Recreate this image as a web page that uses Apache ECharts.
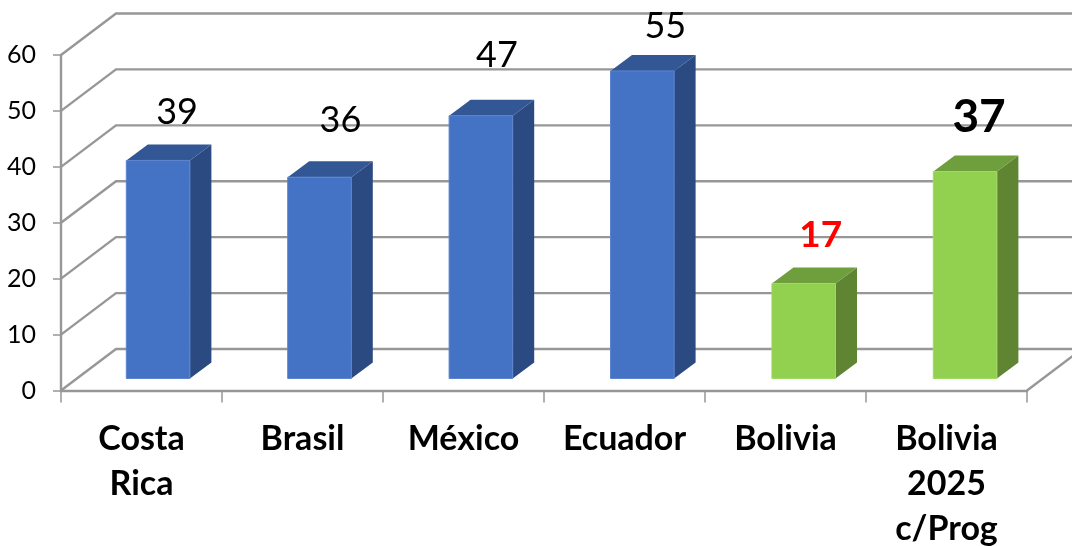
<!DOCTYPE html>
<html><head><meta charset="utf-8">
<style>html,body{margin:0;padding:0;background:#fff}#c{width:1072px;height:546px}</style>
<script src="https://cdn.jsdelivr.net/npm/echarts@6/dist/echarts.min.js"></script>
</head><body><div id="c"></div>
<script>
const categories = ['Costa\nRica','Brasil','México','Ecuador','Bolivia','Bolivia\n2025\nc/Prog'];
const values = [39,36,47,55,17,37];
const yTicks = [0,10,20,30,40,50,60];
const valueLabels = ['39','36','47','55','17','37'];

// layout / style
const font = 'Lato';
const wallDX = 55, wallDY = -41.5;       // depth of the 3D wall
const barShiftX = 16.6, barShiftY = -12; // bar front face position inside the depth
const barSpread = 0.4;                   // slight extra spacing per bar
const barDX = 21.5, barDY = -16;         // bar depth
const barWidthRatio = 0.395;
const grey = '#979797';
const blue = {front:'#4472C4', top:'#335795', side:'#2B4A81', edge:'#5C84CE'};
const green = {front:'#92D050', top:'#6F9E3D', side:'#5F8533', edge:'#A0DA62'};
const palettes = [blue,blue,blue,blue,green,green];
const labelStyles = [
  {nx:19,ny:-48,size:36,weight:'normal',color:'#000'},
  {nx:21,ny:-57,size:36,weight:'normal',color:'#000'},
  {nx:16,ny:-60,size:36,weight:'normal',color:'#000'},
  {nx:23,ny:-45,size:36,weight:'normal',color:'#000'},
  {nx:17,ny:-48.5,size:37,weight:'bold',color:'#FF0000'},
  {nx:14,ny:-54.5,size:46,weight:'bold',color:'#000'}
];

function renderWall(params, api){
  const cs = params.coordSys;
  const v = api.value(1);
  const y = api.coord([0, v])[1];
  const x0 = cs.x, x1 = cs.x + cs.width;
  const children = [{
    type:'polyline',
    shape:{points:[[x0,y],[x0+wallDX,y+wallDY],[x1+wallDX,y+wallDY]]},
    style:{fill:'none',stroke:grey,lineWidth:2.4}
  }];
  if (v === 0) children.push({
    type:'line',
    shape:{x1:x1,y1:y,x2:x1+wallDX,y2:y+wallDY},
    style:{stroke:grey,lineWidth:2.4}
  });
  return {type:'group',children};
}
function renderBar(params, api){
  const i = api.value(0);
  const w = api.size([1,0])[0]*barWidthRatio;
  const base = api.coord([i,0]);
  const top = api.coord([i,api.value(1)]);
  const p = palettes[i];
  const l = base[0]-w/2+barShiftX+i*barSpread, r = l+w;
  const b = base[1]+barShiftY, t = top[1]+barShiftY;
  const s = labelStyles[i];
  return {type:'group',children:[
    {type:'polygon',shape:{points:[[r,b],[r+barDX,b+barDY],[r+barDX,t+barDY],[r,t]]},style:{fill:p.side}},
    {type:'polygon',shape:{points:[[l,t],[r,t],[r+barDX,t+barDY],[l+barDX,t+barDY]]},style:{fill:p.top}},
    {type:'rect',shape:{x:l,y:t,width:w,height:b-t},style:{fill:p.front,stroke:p.edge,lineWidth:1}},
    {type:'text',x:(l+r)/2+s.nx,y:t+s.ny,style:{
      text:valueLabels[i],align:'center',verticalAlign:'middle',
      font:s.weight+' '+s.size+'px '+font,fill:s.color}}
  ]};
}
const chart = echarts.init(document.getElementById('c'),null,{renderer:'canvas'});
chart.setOption({
  animation:false,
  backgroundColor:'#fff',
  grid:{left:61,right:45,top:55,bottom:155.5,outerBoundsMode:'none',containLabel:false},
  xAxis:{type:'category',data:categories,
    axisLine:{show:true,lineStyle:{color:grey,width:2.4}},
    axisTick:{show:true,alignWithLabel:false,length:12,lineStyle:{color:grey,width:1.5}},
    axisLabel:{interval:0,margin:26,lineHeight:45,fontFamily:font,fontWeight:'bold',fontSize:34,color:'#000'},
    splitLine:{show:false}
  },
  yAxis:{type:'value',min:0,max:60,interval:10,
    axisLine:{show:true,lineStyle:{color:grey,width:2.4}},
    axisTick:{show:true,length:8,lineStyle:{color:grey,width:1.5}},
    axisLabel:{margin:25,padding:[3,0,0,0],fontFamily:font,fontSize:25,color:'#000',
      formatter:v=>yTicks.includes(v)?String(v):''},
    splitLine:{show:false}
  },
  series:[
    {type:'custom',name:'walls',clip:false,silent:true,z:1,
     data:yTicks.map(v=>[0,v]),encode:{x:0,y:1},renderItem:renderWall},
    {type:'custom',name:'bars',clip:false,silent:true,z:3,
     data:values.map((v,i)=>[i,v]),encode:{x:0,y:1},renderItem:renderBar}
  ]
});
</script></body></html>
